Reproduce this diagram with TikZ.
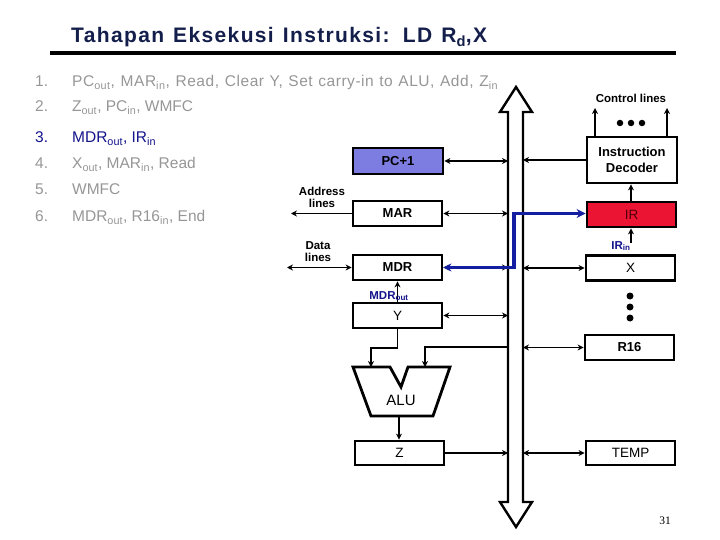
\documentclass[tikz,border=0pt]{standalone}
\usepackage{fontspec}
\setmainfont{Liberation Sans}
\newfontfamily\timesf{Liberation Serif}
\usetikzlibrary{arrows.meta}
\definecolor{titlecol}{RGB}{20,30,75}
\definecolor{itemgray}{RGB}{150,150,150}
\definecolor{itemblue}{RGB}{20,20,140}
\definecolor{pcfill}{RGB}{125,125,225}
\definecolor{irfill}{RGB}{235,20,50}
\definecolor{irtext}{RGB}{80,0,10}
\definecolor{pathblue}{RGB}{20,30,160}
\newcommand\sbs[1]{\textsubscript{#1}}
\begin{document}
\begin{tikzpicture}[x=1pt,y=-1pt,
  box/.style={draw, line width=2.8pt, minimum width=89pt, minimum height=25pt, inner sep=0pt, font=\fontsize{13}{15}\selectfont\bfseries},
  plainbox/.style={box, font=\fontsize{13.5}{15}\selectfont},
  lbl/.style={font=\fontsize{11.5}{12}\selectfont\bfseries, align=center, inner sep=0pt},
  item/.style={anchor=base west, inner sep=0pt, font=\fontsize{15.5}{18}\selectfont, text=itemgray},
  sig/.style={font=\fontsize{11.5}{13}\selectfont\bfseries, text=itemblue, inner sep=0pt},
  onearrow/.style={line width=1.8pt, -{Stealth[length=6pt,width=6pt]}},
  twoarrow/.style={line width=1.8pt, {Stealth[length=6pt,width=6pt]}-{Stealth[length=6pt,width=6pt]}},
  dot/.style={circle, fill=black, inner sep=0pt, minimum size=6pt}
]
\useasboundingbox (0,0) rectangle (720,540);

% title
\node[anchor=base west, inner sep=0pt, font=\fontsize{21}{25}\selectfont\bfseries, text=titlecol] (title) at (71,43)
  {\addfontfeature{LetterSpace=6.5}\makebox[416pt][s]{Tahapan Eksekusi Instruksi: LD R\sbs{d},X}};
\draw[line width=4pt] (50,53) -- (676,53);

% list
\foreach \n/\y in {1/87,2/112,4/169,5/195,6/222}{
  \node[item] (num\n) at (35,\y) {\n.};
}
\node[item, text=itemblue] (num3) at (35,143) {3.};
\node[item] (it1) at (72,87) {\addfontfeature{LetterSpace=3.5}\makebox[426pt][s]{PC\sbs{out}, MAR\sbs{in}, Read, Clear Y, Set carry-in to ALU, Add, Z\sbs{in}}};
\node[item] (it2) at (72,112) {Z\sbs{out}, PC\sbs{in}, WMFC};
\node[item, text=itemblue] (it3) at (72,143) {MDR\sbs{out}, IR\sbs{in}};
\node[item] (it4) at (72,169) {X\sbs{out}, MAR\sbs{in}, Read};
\node[item] (it5) at (72,195) {WMFC};
\node[item] (it6) at (72,222) {MDR\sbs{out}, R16\sbs{in}, End};

% bus
\draw[line width=2.4pt, fill=white, line join=miter] (508,112) -- (500,112) -- (516,87) -- (532,112) -- (523,112)
  -- (523,502) -- (532,502) -- (516,527) -- (500,502) -- (508,502) -- cycle;
\coordinate (busL) at (508,300);
\coordinate (busR) at (523,300);

% boxes left
\node[box, fill=pcfill, minimum width=90pt, minimum height=26pt] (pc) at (398,161) {PC+1};
\node[box] (mar) at (397.5,213.5) {MAR};
\node[box] (mdr) at (397.5,267.5) {MDR};
\node[plainbox] (y) at (397.5,315.5) {Y};
\node[plainbox, minimum height=24pt] (z) at (399.5,453) {Z};

% boxes right
\node[box, minimum width=90pt, minimum height=46pt, align=center, font=\fontsize{13}{15.5}\selectfont\bfseries] (dec) at (632,160) {Instruction\\Decoder};
\node[box, fill=irfill, text=irtext, font=\fontsize{13.5}{15}\selectfont] (ir) at (631.5,214.5) {IR};
\node[plainbox] (x) at (630.5,268) {X};
\node[box] (r16) at (629.5,347.5) {R16};
\node[plainbox, minimum height=24pt] (temp) at (630.5,453) {TEMP};

% ALU
\draw[line width=2.8pt] (353,367) -- (390,367) -- (401,387) -- (408,367) -- (450,367) -- (433,416) -- (371,416) -- cycle;
\node[font=\fontsize{15}{18}\selectfont, inner sep=0pt] (alu) at (401,400) {ALU};
\coordinate (aluA) at (371,367);
\coordinate (aluB) at (425,367);
\coordinate (aluO) at (399,416);

% labels
\node[lbl] (addrl) at (322,197) {Address\\lines};
\node[lbl] (datal) at (318,252) {Data\\lines};
\node[lbl] (ctrl) at (631,98) {Control lines};
\coordinate (addrend) at (291,213.5);
\coordinate (dataend) at (287,267.5);

% connectors left
\draw[twoarrow] (pc.east) -- (pc.east -| busL);
\draw[twoarrow] (mar.east) -- (mar.east -| busL);
\draw[onearrow] (mar.west) -- (addrend);
\draw[twoarrow] (dataend) -- (mdr.west);
\draw[twoarrow] (mdr.east) -- (mdr.east -| busL);
\draw[twoarrow] (y.east) -- (y.east -| busL);
\draw[onearrow] (z.east) -- (z.east -| busL);
\draw[onearrow] (y.south) |- (371,348) -- (aluA);
\draw[onearrow] (busL |- 0,347) -| (aluB);
\draw[onearrow] (aluO) -- (z.north -| aluO);
\draw[onearrow] (y.north) -- (mdr.south);
\node[sig, anchor=base] (mdrout) at (389,299) {MDR\sbs{out}};

% blue path MDR -> IR
\draw[line width=3.4pt, pathblue, {Stealth[length=8pt,width=8pt]}-{Stealth[length=9pt,width=9pt]}] (mdr.east) -- (514,267.5) -- (514,213.5) -- (ir.west |- 0,213.5);

% connectors right
\draw[onearrow] (dec.west) -- (dec.west -| busR);
\draw[twoarrow] (x.west) -- (x.west -| busR);
\draw[twoarrow] (r16.west) -- (r16.west -| busR);
\draw[twoarrow] (temp.west) -- (temp.west -| busR);
\draw[onearrow] (ir.north -| 631,0) -- (dec.south -| 631,0);
\coordinate (irinstart) at (631,243);
\draw[onearrow] (irinstart) -- (ir.south -| irinstart);
\node[sig, anchor=base] (irin) at (621,249) {IR\sbs{in}};
\coordinate (c1) at (595,108);
\coordinate (c2) at (667,108);
\draw[onearrow] (dec.north -| c1) -- (c1);
\draw[onearrow] (dec.north -| c2) -- (c2);

% dots
\foreach \xx in {620,631,642}{ \node[dot, minimum size=6.5pt] at (\xx,123) {}; }
\foreach \yy in {296,307,318}{ \node[dot, minimum size=7pt] at (630,\yy) {}; }

% page number
\node[anchor=base, inner sep=0pt, font=\timesf\fontsize{11.5}{13}\selectfont] (pagenum) at (665,524) {31};
\end{tikzpicture}
\end{document}
